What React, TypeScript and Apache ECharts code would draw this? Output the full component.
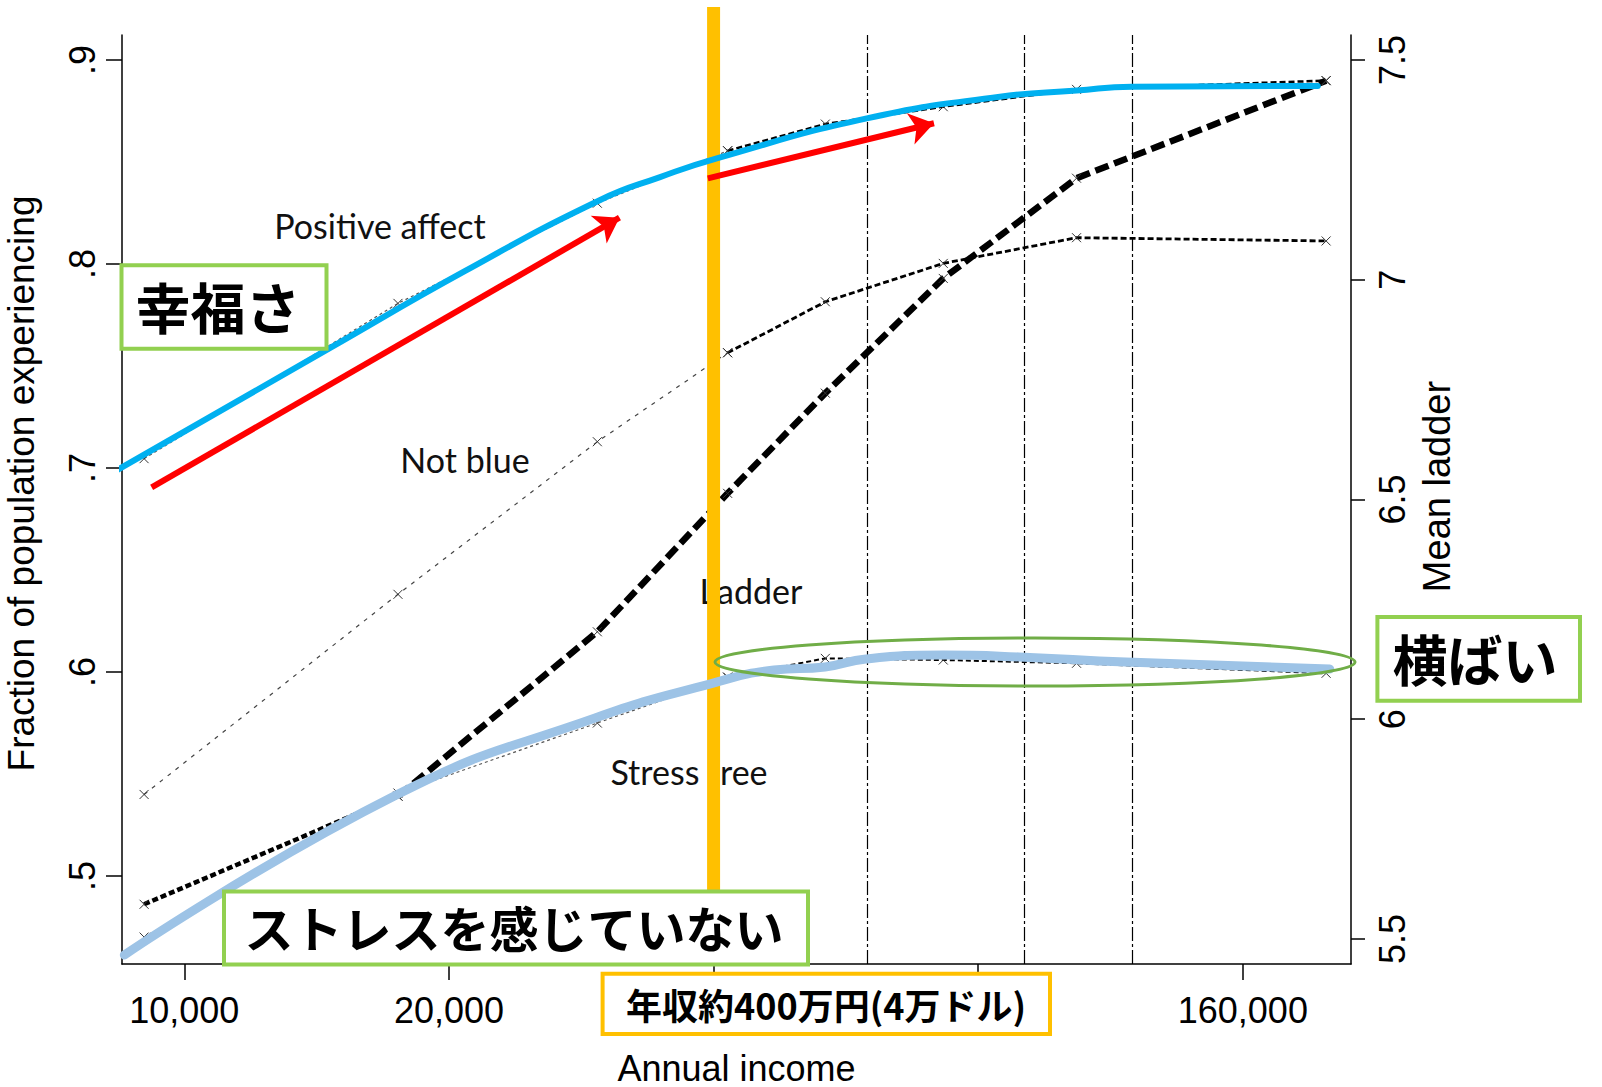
import React, { useEffect, useRef } from "react";
import * as echarts from "echarts";

// ---- data ----
// annual income (USD) at each plotted point
const incomes = [9000, 17500, 29500, 41500, 53600, 73000, 103500, 199000];
// left axis: fraction of population experiencing
const positiveAffect = [0.7046, 0.7807, 0.8298, 0.8555, 0.8686, 0.8771, 0.8856, 0.8899];
const notBlue = [0.54, 0.6381, 0.7129, 0.7565, 0.7815, 0.8003, 0.8129, 0.8113];
const stressFree = [0.4701, 0.5407, 0.575, 0.5975, 0.6067, 0.6059, 0.6043, 0.5994];
// right axis: mean ladder
const meanLadder = [5.579, 5.825, 6.199, 6.514, 6.742, 7.003, 7.231, 7.453];

// axis ticks
const xTickIncomes = [10000, 20000, 40000, 80000, 160000];
const xLabelIncomes = [10000, 20000, 160000];
const leftTicks = [0.5, 0.6, 0.7, 0.8, 0.9];
const rightTicks = [5.5, 6, 6.5, 7, 7.5];

// reference lines (income bin limits) and the 40k threshold
const refIncomes = [60000, 90000, 120000];
const thresholdIncome = 40000;

// hand-drawn highlight curves
const happyIncomes = [8350, 14620, 20870, 29720, 34770, 40340, 59750, 84680, 103500, 119600, 194700];
const happyValues = [0.6985, 0.7586, 0.7966, 0.8314, 0.8426, 0.8518, 0.8714, 0.882, 0.885, 0.8869, 0.8873];
const calmIncomes = [8546, 17512, 29330, 39950, 46870, 53560, 59630, 72950, 88990, 117780, 200900];
const calmValues = [0.4613, 0.5402, 0.5775, 0.5946, 0.601, 0.6025, 0.6064, 0.6083, 0.6074, 0.6049, 0.6015];

// red arrows (from -> to)
const arrowFromIncome = [9180, 39400];
const arrowFromValue = [0.6905, 0.842];
const arrowToIncome = [31260, 71250];
const arrowToValue = [0.8227, 0.869];

const L = (v: number) => Math.log2(v);
const toPts = (xs: number[], ys: number[]) => xs.map((x, i) => [L(x), ys[i]]);

const xPath = "path://M0,0L10,10M10,0L0,10";
const axisFont = '"Liberation Sans", Arial, sans-serif';
const labelFont = 'Lato, "Open Sans", sans-serif';
const jpFont = '"Noto Sans CJK JP", sans-serif';

function segment(ys: number[], yAxisIndex: number, from: number, to: number, width: number, dash: number[], color: string) {
  return {
    type: "line",
    yAxisIndex,
    z: 2,
    silent: true,
    data: toPts(incomes, ys).slice(from, to + 1),
    symbol: xPath,
    symbolSize: 9,
    showSymbol: true,
    itemStyle: { color: "none", borderColor: "#333", borderWidth: 1 },
    lineStyle: { color, width, type: dash },
    emphasis: { disabled: true },
  };
}

function box(x: number, y: number, w: number, h: number, stroke: string, text: string, cx: number, cy: number, fs: number) {
  return [
    { type: "rect", z: 20, shape: { x, y, width: w, height: h }, style: { fill: "#fff", stroke, lineWidth: 4 } },
    {
      type: "text",
      z: 21,
      style: { text, x: cx, y: cy, align: "center", verticalAlign: "middle", fontSize: fs, fontWeight: "bold", fontFamily: jpFont, fill: "#000" },
    },
  ];
}

function label(text: string, cx: number, cy: number) {
  return {
    type: "text",
    z: 2,
    style: { text, x: cx, y: cy, align: "center", verticalAlign: "middle", fontSize: 34, fontFamily: labelFont, fill: "#111" },
  };
}

export default function App() {
  const ref = useRef<HTMLDivElement>(null);
  useEffect(() => {
    if (!ref.current) return;
    const chart = echarts.init(ref.current, null, { renderer: "svg" });
    const axisLine = { show: true, onZero: false, lineStyle: { color: "#000", width: 1.5 } };
    const option: any = {
      animation: false,
      backgroundColor: "#fff",
      grid: { left: 122, right: 251, top: 35, bottom: 123, containLabel: false, outerBoundsMode: "none" },
      xAxis: {
        type: "value",
        min: L(8494),
        max: L(212400),
        axisLine,
        axisTick: { show: true, length: 16, customValues: xTickIncomes.map(L), lineStyle: { color: "#000", width: 1.5 } },
        axisLabel: {
          customValues: xLabelIncomes.map(L),
          formatter: (v: number) => Math.round(Math.pow(2, v)).toLocaleString("en-US"),
          fontSize: 36,
          fontFamily: axisFont,
          color: "#000",
          margin: 28,
        },
        splitLine: { show: false },
        name: "Annual income",
        nameLocation: "middle",
        nameGap: 86,
        nameTextStyle: { fontSize: 36, fontFamily: axisFont, color: "#000" },
      },
      yAxis: [
        {
          type: "value",
          position: "left",
          min: 0.4569,
          max: 0.91225,
          axisLine,
          axisTick: { show: true, length: 16, customValues: leftTicks, lineStyle: { color: "#000", width: 1.5 } },
          axisLabel: {
            customValues: leftTicks,
            rotate: 90,
            formatter: (v: number) => v.toFixed(1).replace(/^0/, ""),
            fontSize: 36,
            fontFamily: axisFont,
            color: "#000",
            margin: 22,
          },
          splitLine: { show: false },
          name: "Fraction of population experiencing",
          nameLocation: "middle",
          nameRotate: 90,
          nameGap: 82,
          nameTextStyle: { fontSize: 37, fontFamily: axisFont, color: "#000", padding: [0, 0, 0, 32] },
        },
        {
          type: "value",
          position: "right",
          min: 5.4431,
          max: 7.5569,
          axisLine,
          axisTick: { show: true, length: 14, customValues: rightTicks, lineStyle: { color: "#000", width: 1.5 } },
          axisLabel: {
            customValues: rightTicks,
            rotate: 90,
            formatter: (v: number) => String(v),
            fontSize: 36,
            fontFamily: axisFont,
            color: "#000",
            margin: 23,
          },
          splitLine: { show: false },
          name: "Mean ladder",
          nameLocation: "middle",
          nameRotate: 90,
          nameGap: 64,
          nameTextStyle: { fontSize: 38, fontFamily: axisFont, color: "#000", padding: [0, 0, 0, 26] },
        },
      ],
      series: [
        {
          type: "line",
          data: [],
          silent: true,
          markLine: {
            silent: true,
            z: 1,
            symbol: "none",
            label: { show: false },
            emphasis: { disabled: true },
            lineStyle: { color: "#000", width: 1.2, type: [14, 3, 3, 3] },
            data: refIncomes.map((v) => ({ xAxis: L(v) })),
          },
        },
        segment(positiveAffect, 0, 0, 3, 1.2, [3, 3], "#555"),
        segment(positiveAffect, 0, 3, 7, 2.5, [6, 3], "#000"),
        segment(notBlue, 0, 0, 3, 1.2, [4, 6], "#444"),
        segment(notBlue, 0, 3, 7, 2.8, [6, 3], "#000"),
        segment(stressFree, 0, 0, 3, 1.2, [3, 3], "#555"),
        segment(stressFree, 0, 3, 7, 2, [5, 3], "#000"),
        segment(meanLadder, 1, 0, 1, 4.5, [6, 3], "#000"),
        segment(meanLadder, 1, 1, 7, 6.5, [14, 6], "#000"),
        {
          type: "line",
          z: 3,
          silent: true,
          clip: false,
          symbol: "none",
          data: [
            [L(thresholdIncome), 0.926],
            [L(thresholdIncome), 0.4735],
          ],
          lineStyle: { color: "#FFC000", width: 13 },
          emphasis: { disabled: true },
        },
        {
          type: "line",
          z: 4,
          silent: true,
          clip: false,
          symbol: "none",
          smooth: 0.5,
          data: toPts(calmIncomes, calmValues),
          lineStyle: { color: "#9DC3E6", width: 9, cap: "round" },
          emphasis: { disabled: true },
        },
        {
          type: "line",
          z: 5,
          silent: true,
          clip: false,
          symbol: "none",
          smooth: 0.5,
          data: toPts(happyIncomes, happyValues),
          lineStyle: { color: "#00B0F0", width: 6, cap: "round" },
          emphasis: { disabled: true },
        },
        {
          type: "line",
          data: [],
          silent: true,
          markLine: {
            silent: true,
            z: 6,
            symbol: ["none", "arrow"],
            symbolSize: 24,
            label: { show: false },
            emphasis: { disabled: true },
            lineStyle: { color: "#FF0000", width: 6, type: "solid" },
            itemStyle: { color: "#FF0000" },
            data: arrowFromIncome.map((x, i) => [
              { coord: [L(x), arrowFromValue[i]] },
              { coord: [L(arrowToIncome[i]), arrowToValue[i]] },
            ]),
          },
        },
      ],
      graphic: [
        label("Positive affect", 380, 225),
        label("Not blue", 465, 459),
        label("Ladder", 751, 590),
        label("Stress free", 689, 771),
        {
          type: "ellipse",
          z: 7,
          shape: { cx: 1035, cy: 662, rx: 320, ry: 24 },
          style: { fill: "none", stroke: "#70AD47", lineWidth: 3 },
        },
        ...box(121.5, 265.3, 205, 83.4, "#92D050", "幸福さ", 218, 305, 55),
        ...box(1377.4, 617, 202.6, 83.7, "#92D050", "横ばい", 1475, 657, 55),
        ...box(224, 891.5, 584, 73, "#92D050", "ストレスを感じていない", 514, 926, 49),
        ...box(602.6, 973.7, 447.4, 60.3, "#FFC000", "年収約400万円(4万ドル)", 826, 1004, 36),
      ],
    };
    chart.setOption(option);
    return () => chart.dispose();
  }, []);
  return (
    <div
      ref={ref}
      style={{ position: "fixed", left: 0, top: 0, width: 1602, height: 1087, background: "#fff" }}
    />
  );
}
